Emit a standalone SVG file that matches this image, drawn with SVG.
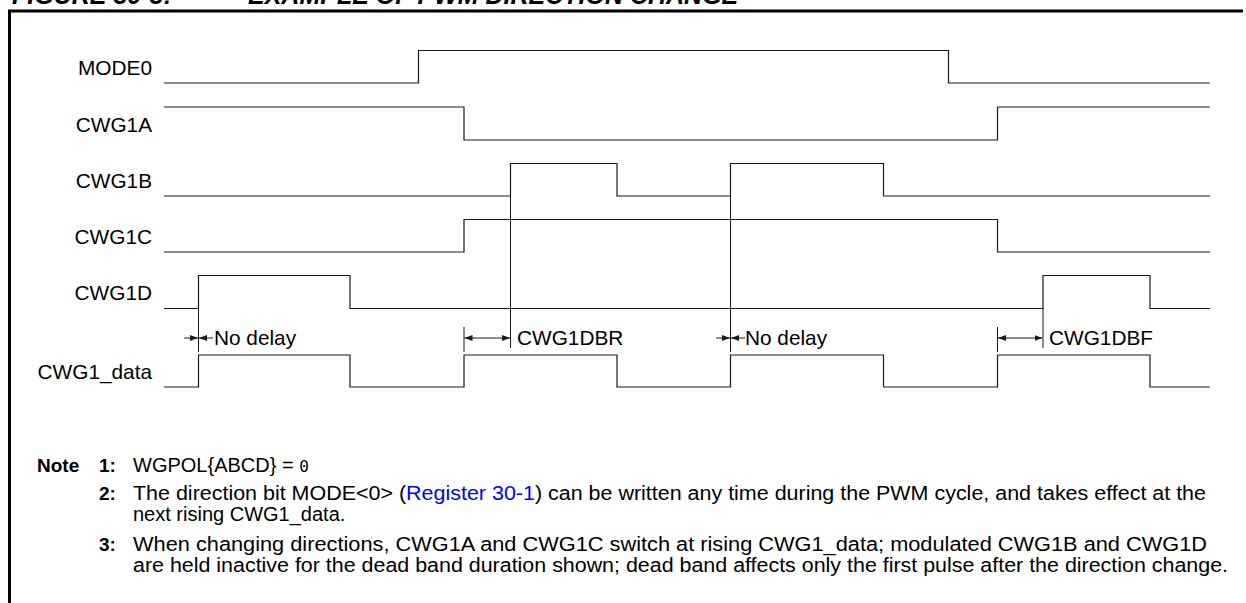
<svg xmlns="http://www.w3.org/2000/svg" width="1246" height="603" viewBox="0 0 1246 603">
<style>
.sig{fill:none;stroke:#1a1a1a;stroke-width:1.2}
.ext{fill:none;stroke:#1a1a1a;stroke-width:1}
.arr{fill:none;stroke:#1a1a1a;stroke-width:1}
.lbl{font-family:"Liberation Sans",Arial,sans-serif;font-size:20.8px;fill:#000}
.note{font-family:"Liberation Sans",Arial,sans-serif;font-size:20px;fill:#000}
.nb{font-family:"Liberation Sans",Arial,sans-serif;font-size:19px;font-weight:bold;fill:#000}
.title{font-family:"Liberation Sans",Arial,sans-serif;font-size:25px;font-weight:bold;font-style:italic;fill:#000}
</style>
<defs>
<marker id="ah" viewBox="0 0 8 6" refX="8" refY="3" markerWidth="8" markerHeight="6" markerUnits="userSpaceOnUse" orient="auto-start-reverse">
<path d="M0,0 L8,3 L0,6 Z" fill="#1a1a1a"/>
</marker>
</defs>
<rect width="1246" height="603" fill="#fff"/>
<g id="title">
<text class="title" x="12" y="4">FIGURE 30-3:</text>
<text class="title" x="248" y="4">EXAMPLE OF PWM DIRECTION CHANGE</text>
</g>
<g id="frame" fill="none" stroke="#000" stroke-width="3">
<path d="M9.5,603 V11 H1243"/>
</g>
<g id="labels">
<text class="lbl" x="152" y="75" text-anchor="end">MODE0</text>
<text class="lbl" x="152" y="131.5" text-anchor="end">CWG1A</text>
<text class="lbl" x="152" y="187.5" text-anchor="end">CWG1B</text>
<text class="lbl" x="152" y="243.5" text-anchor="end">CWG1C</text>
<text class="lbl" x="152" y="300" text-anchor="end">CWG1D</text>
<text class="lbl" x="152" y="379" text-anchor="end">CWG1_data</text>
</g>
<g id="MODE0"><path class="sig" d="M164,83 H418.5 V50.5 H948.5 V83 H1210"/></g>
<g id="CWG1A"><path class="sig" d="M164,107 H464 V140 H997.5 V107 H1210"/></g>
<g id="CWG1B"><path class="sig" d="M164,196 H510.5 V163.5 H617 V196 H730.5 V163.5 H883.5 V196 H1210"/></g>
<g id="CWG1C"><path class="sig" d="M164,252 H464 V219.5 H997.5 V252 H1210"/></g>
<g id="CWG1D"><path class="sig" d="M164,308.5 H198.5 V275.5 H350 V308.5 H1043 V275.5 H1150 V308.5 H1210"/></g>
<g id="CWG1_data"><path class="sig" d="M164,387 H198.5 V355 H350 V387 H464 V355 H617 V387 H730.5 V355 H883.5 V387 H997.5 V355 H1150 V387 H1210"/></g>
<g id="connectors">
<path class="ext" d="M198.5,308.5 V352"/>
<path class="ext" d="M510.5,196 V348"/>
<path class="ext" d="M730.5,196 V352"/>
<path class="ext" d="M1043,308.5 V348"/>
<path class="ext" d="M464,327 V352"/>
<path class="ext" d="M997.5,327 V352"/>
<line class="arr" x1="184" y1="338" x2="198" y2="338" marker-end="url(#ah)"/>
<line class="arr" x1="213" y1="338" x2="199" y2="338" marker-end="url(#ah)"/>
<line class="arr" x1="464.5" y1="338" x2="510" y2="338" marker-start="url(#ah)" marker-end="url(#ah)"/>
<line class="arr" x1="716" y1="338" x2="730" y2="338" marker-end="url(#ah)"/>
<line class="arr" x1="745" y1="338" x2="731" y2="338" marker-end="url(#ah)"/>
<line class="arr" x1="998" y1="338" x2="1042.5" y2="338" marker-start="url(#ah)" marker-end="url(#ah)"/>
</g>
<g id="timing-labels">
<text class="lbl" x="214" y="345">No delay</text>
<text class="lbl" x="517" y="345">CWG1DBR</text>
<text class="lbl" x="745" y="345">No delay</text>
<text class="lbl" x="1049" y="345">CWG1DBF</text>
</g>
<g id="notes">
<text class="nb" x="37" y="472">Note</text>
<text class="nb" x="99" y="472">1:</text>
<text class="note" x="133" y="472">WGPOL{ABCD} = <tspan font-family="'DejaVu Sans Mono',monospace" font-size="16px">0</tspan></text>
<text class="nb" x="99" y="500">2:</text>
<text class="note" x="133" y="500" textLength="1073" lengthAdjust="spacingAndGlyphs">The direction bit MODE&lt;0&gt; (<tspan fill="#0000ff">Register 30-1</tspan>) can be written any time during the PWM cycle, and takes effect at the</text>
<text class="note" x="133" y="521">next rising CWG1_data.</text>
<text class="nb" x="99" y="551">3:</text>
<text class="note" x="133" y="551" textLength="1074" lengthAdjust="spacingAndGlyphs">When changing directions, CWG1A and CWG1C switch at rising CWG1_data; modulated CWG1B and CWG1D</text>
<text class="note" x="133" y="572" textLength="1095" lengthAdjust="spacingAndGlyphs">are held inactive for the dead band duration shown; dead band affects only the first pulse after the direction change.</text>
</g>
</svg>
